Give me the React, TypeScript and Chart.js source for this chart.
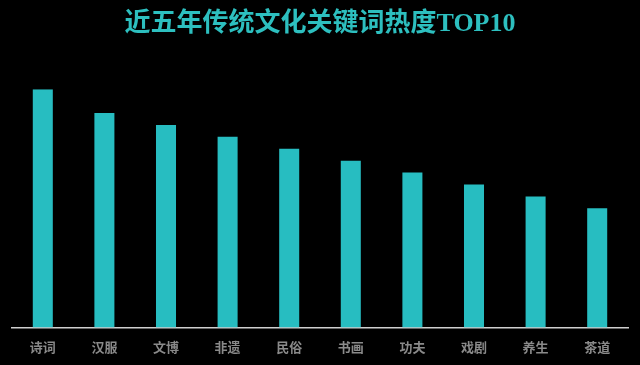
import React, { useEffect, useRef } from "react";
import { Chart, registerables } from "chart.js";

Chart.register(...registerables);

const categories = ["诗词", "汉服", "文博", "非遗", "民俗", "书画", "功夫", "戏剧", "养生", "茶道"];
const heatValues = [100, 90, 85, 80, 75, 70, 65, 60, 55, 50];
const titleText = "近五年传统文化关键词热度TOP10";

export default function App() {
  const ref = useRef<HTMLCanvasElement | null>(null);
  useEffect(() => {
    if (!ref.current) return;
    const chart = new Chart(ref.current, {
      type: "bar",
      data: {
        labels: categories,
        datasets: [
          {
            data: heatValues,
            backgroundColor: "#27BDC1",
            borderWidth: 0,
            categoryPercentage: 1,
            barPercentage: 0.325,
          },
        ],
      },
      options: {
        responsive: false,
        animation: false,
        layout: { padding: { left: 12, right: 12, top: 0, bottom: -2 } },
        plugins: {
          legend: { display: false },
          tooltip: { enabled: false },
          title: {
            display: true,
            text: titleText,
            color: "#2DBFBF",
            font: { size: 26, weight: "bold", family: '"Liberation Serif", "Noto Sans CJK SC", serif' },
            padding: { top: 9, bottom: 49 },
          },
        },
        scales: {
          x: {
            grid: { display: false, drawTicks: false },
            border: { display: true, color: "#cfcfcf", width: 1.5 },
            ticks: {
              color: "#8a8a8a",
              padding: 12,
              font: { size: 13, weight: "bold", family: '"Noto Sans CJK SC", sans-serif' },
            },
          },
          y: {
            display: false,
            min: 0,
            max: 100,
          },
        },
      },
    });
    return () => chart.destroy();
  }, []);
  return (
    <div style={{ position: "fixed", left: 0, top: 0, width: 640, height: 365, background: "#000" }}>
      <canvas ref={ref} width={640} height={365} style={{ display: "block" }} />
    </div>
  );
}
